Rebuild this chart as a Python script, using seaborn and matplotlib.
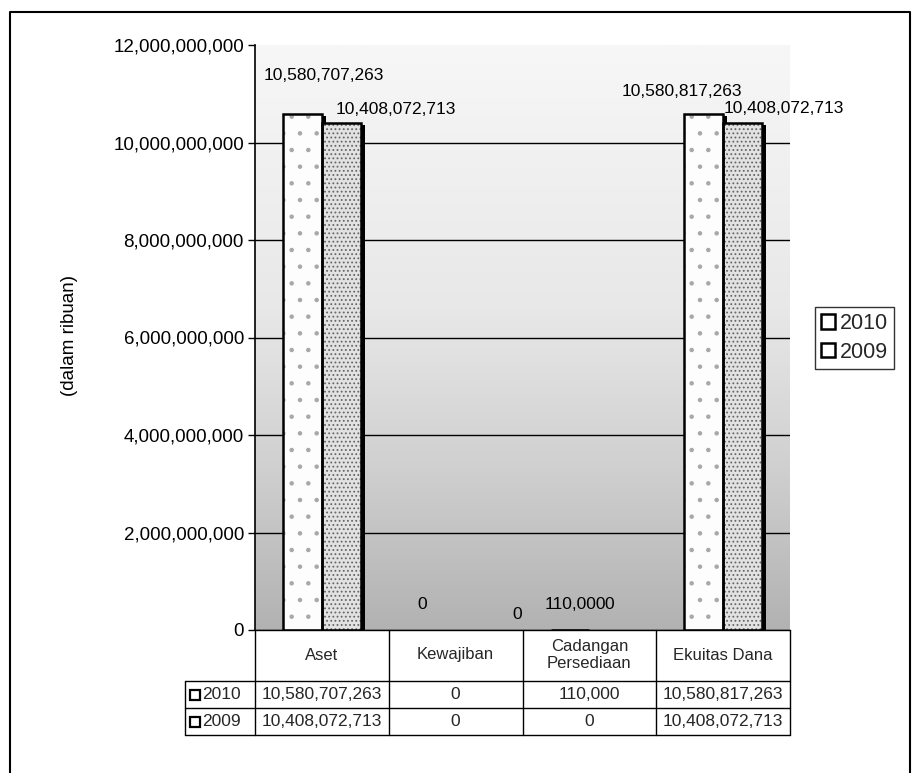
import numpy as np
import pandas as pd
import matplotlib
matplotlib.use("Agg")
import matplotlib.pyplot as plt
import matplotlib.transforms as mtransforms
from matplotlib.patches import Patch, Rectangle
from matplotlib.lines import Line2D
import seaborn as sns

# ---- data ----
categories = ["Aset", "Kewajiban", "Cadangan\nPersediaan", "Ekuitas Dana"]
series_names = ["2010", "2009"]
values_2010 = [10580707263, 0, 110000, 10580817263]
values_2009 = [10408072713, 0, 0, 10408072713]
y_ticks = [0, 2e9, 4e9, 6e9, 8e9, 10e9, 12e9]
y_label = "(dalam ribuan)"

# label offsets (pixels) relative to bar top centre: (dx, dy)
label_offsets = {
    "2010": [(21, 31), (-14, 18), (5, 18), (-22, 15)],
    "2009": [(55, 6), (42, 8), (0, 18), (41, 7)],
}

sns.set_theme(style="white")
plt.rcParams["font.family"] = ["Liberation Sans", "DejaVu Sans"]
plt.rcParams["hatch.linewidth"] = 0.8

df = pd.DataFrame({
    "category": categories * 2,
    "year": [series_names[0]] * 4 + [series_names[1]] * 4,
    "value": values_2010 + values_2009,
})

W, H = 914, 773
fig = plt.figure(figsize=(W / 100, H / 100), dpi=100)
fig.patch.set_facecolor("white")
ax = fig.add_axes([255 / W, 1 - 630 / H, 535 / W, 585 / H])

sns.barplot(data=df, x="category", y="value", hue="year", order=categories,
            hue_order=series_names, palette={"2010": "#fdfdfd", "2009": "#e2e2e2"},
            width=0.58, ax=ax, legend=False, zorder=3, linewidth=0)

ax.set_xlim(-0.5, 3.5)
ax.set_ylim(0, 12e9)

# background gradient
grad = np.linspace(0, 1, 256).reshape(-1, 1)
cmap = matplotlib.colors.LinearSegmentedColormap.from_list(
    "bg", [(0.0, "#f7f7f7"), (0.45, "#e8e8e8"), (0.72, "#d0d0d0"), (1.0, "#b2b2b2")])
ax.imshow(grad, extent=[0, 1, 0, 1], transform=ax.transAxes, aspect="auto",
          cmap=cmap, origin="upper", zorder=0)

# bars styling: stipple hatch, black outline, right/bottom shadow
hatches = {"2010": ".", "2009": "...."}
hatch_colors = {"2010": "#a8a8a8", "2009": "#666666"}
shadow_tr = ax.transData + mtransforms.ScaledTranslation(0.04, -0.02, fig.dpi_scale_trans)
for cont, name in zip(ax.containers, series_names):
    for bar in cont:
        bar.set_hatch(hatches[name])
        bar.set_edgecolor(hatch_colors[name])
        bar.set_linewidth(0)
        if bar.get_height() > 0:
            ax.add_patch(Rectangle((bar.get_x(), 0), bar.get_width(), bar.get_height(),
                                   facecolor="black", edgecolor="none", zorder=2.8,
                                   transform=shadow_tr))
            ax.add_patch(Rectangle((bar.get_x(), 0), bar.get_width(), bar.get_height(),
                                   fill=False, edgecolor="black", linewidth=1.8, zorder=3.5))

# grid
ax.set_yticks(y_ticks)
ax.yaxis.set_major_formatter(matplotlib.ticker.FuncFormatter(lambda v, p: f"{v:,.0f}"))
ax.grid(axis="y", color="black", linewidth=1.0, zorder=1)
ax.set_axisbelow(True)
ax.get_ygridlines()[-1].set_visible(False)
ax.tick_params(axis="y", left=True, length=5, width=1, color="black", pad=3,
               labelsize=13.5, labelcolor="black")
ax.tick_params(axis="x", bottom=False, labelbottom=False)
ax.set_xlabel("")
ax.set_ylabel(y_label, fontsize=13.5, color="black")
ax.yaxis.set_label_coords((78 - 255) / 535, 0.504)
for s in ["top", "right", "bottom"]:
    ax.spines[s].set_visible(False)
ax.spines["left"].set_color("black")
ax.spines["left"].set_linewidth(1.2)

# data labels
for cont, name in zip(ax.containers, series_names):
    vals = values_2010 if name == "2010" else values_2009
    for bar, v, (dx, dy) in zip(cont, vals, label_offsets[name]):
        ax.annotate(f"{v:,.0f}", xy=(bar.get_x() + bar.get_width() / 2, bar.get_height()),
                    xytext=(dx * 0.72, dy * 0.72), textcoords="offset points",
                    ha="center", va="bottom", fontsize=12.5, color="black", zorder=6)

# data table
trans = mtransforms.blended_transform_factory(ax.transData, ax.transAxes)
px = 585.0
unit_px = 535 / 4
y_head_bot = -51 / px
y_r1_bot = -78 / px
y_r2_bot = -105 / px
x_left = -0.5 - 70 / unit_px
lk = dict(color="black", linewidth=1.0, transform=trans, clip_on=False, zorder=5)
ax.plot([-0.5, 3.5], [0, 0], **lk)
ax.plot([x_left, 3.5], [y_head_bot, y_head_bot], **lk)
ax.plot([x_left, 3.5], [y_r1_bot, y_r1_bot], **lk)
ax.plot([x_left, 3.5], [y_r2_bot, y_r2_bot], **lk)
for xb in [-0.5, 0.5, 1.5, 2.5, 3.5]:
    ax.plot([xb, xb], [0, y_r2_bot], **lk)
ax.plot([x_left, x_left], [y_head_bot, y_r2_bot], **lk)

tfs = 12.5
for i, cat in enumerate(categories):
    ax.text(i, -25 / px, cat, ha="center", va="center", fontsize=12,
            transform=trans, linespacing=1.15)
    ax.text(i, -64.5 / px, f"{values_2010[i]:,.0f}", ha="center", va="center",
            fontsize=tfs, transform=trans)
    ax.text(i, -91.5 / px, f"{values_2009[i]:,.0f}", ha="center", va="center",
            fontsize=tfs, transform=trans)
for name, yc in zip(series_names, [-64.5 / px, -91.5 / px]):
    ax.plot([x_left + 10 / unit_px], [yc], marker="s", markersize=7, mfc="white",
            mec="black", mew=1.6, transform=trans, clip_on=False, zorder=6)
    ax.text(x_left + 17 / unit_px, yc, name, ha="left", va="center", fontsize=tfs,
            transform=trans)

# legend
handles = [Patch(facecolor="white", edgecolor="black", linewidth=1.8, label=n) for n in series_names]
leg = fig.legend(handles=handles, loc="center left", bbox_to_anchor=(815 / W, 1 - 338 / H),
                 frameon=True, fancybox=False, edgecolor="black", fontsize=15.5,
                 handlelength=0.65, handleheight=0.65, handletextpad=0.2,
                 borderpad=0.3, labelspacing=0.35, borderaxespad=0)
leg.get_frame().set_linewidth(1.0)

# outer frame
fig.add_artist(Line2D([10 / W, 10 / W, 910 / W, 910 / W], [0, 1 - 12 / H, 1 - 12 / H, 0],
                      transform=fig.transFigure, color="black", linewidth=1.5))

fig.savefig("out.png", dpi=100)
